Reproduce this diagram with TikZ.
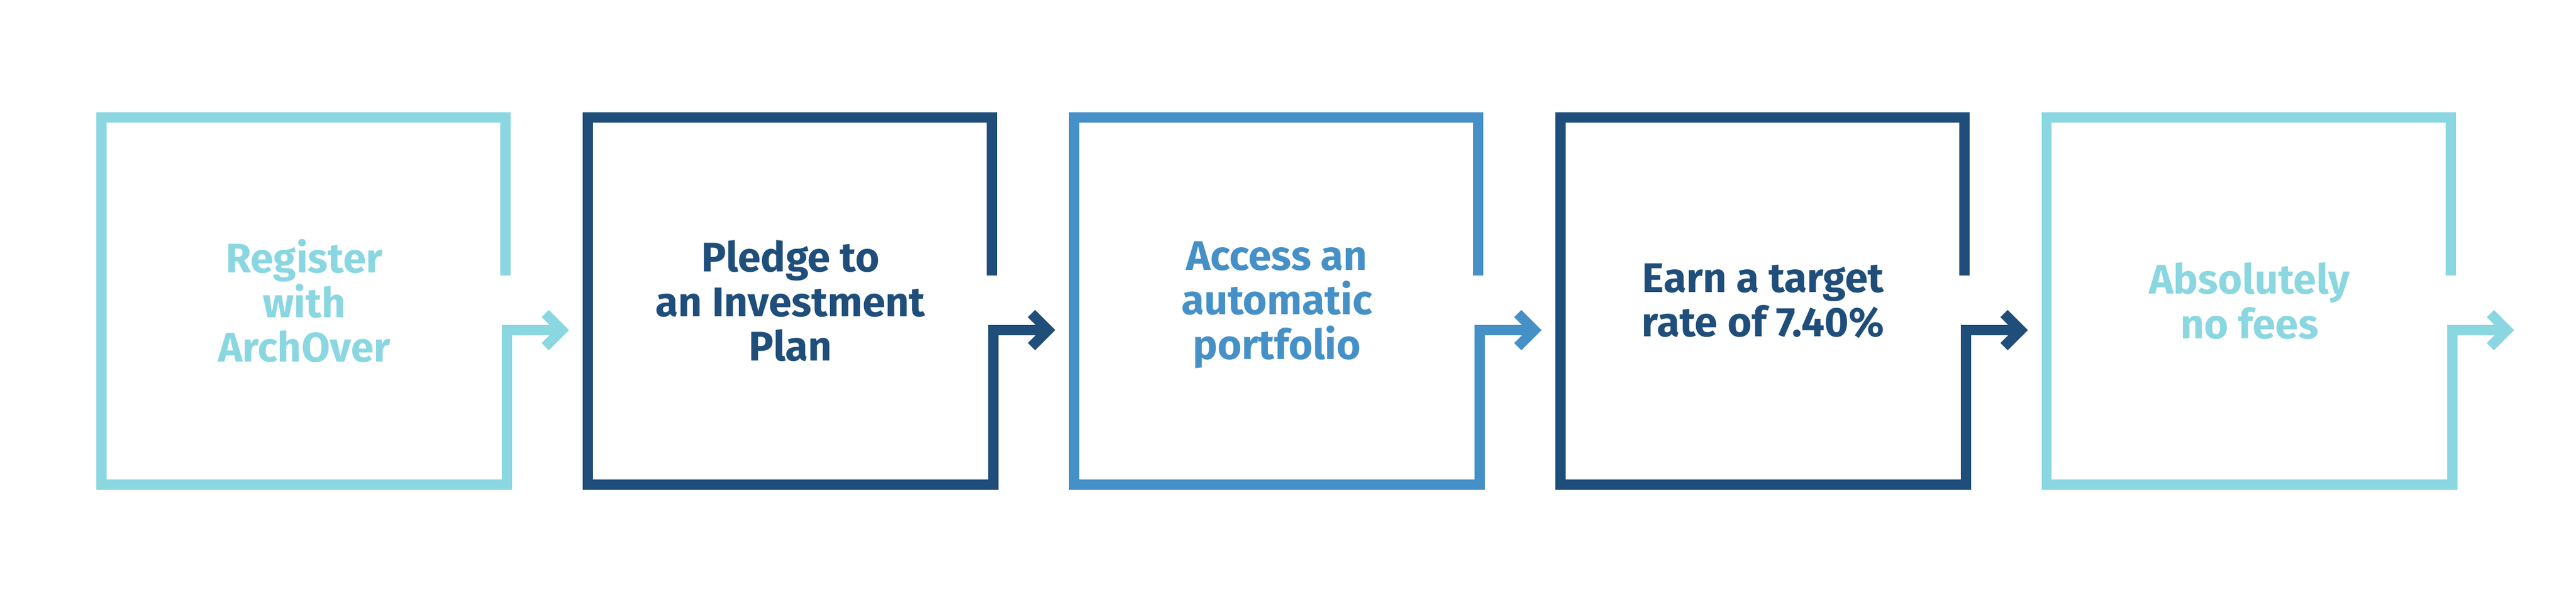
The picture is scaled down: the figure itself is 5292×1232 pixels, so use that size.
\documentclass[tikz,border=0pt]{standalone}
\usepackage{fontspec}
\setmainfont{Fira Sans}
\usetikzlibrary{calc}

\definecolor{stepcyan}{HTML}{8AD7E1}
\definecolor{stepnavy}{HTML}{1F4E7A}
\definecolor{stepblue}{HTML}{4590C7}

\begin{document}
\begin{tikzpicture}[x=1pt, y=-1pt,
    boxline/.style={line width=21pt, line join=miter},
    steptext/.style={align=center, font=\fontsize{85}{91.5}\selectfont\bfseries}]
    \useasboundingbox (0,0) rectangle (5292,1232);

    % Define nodes
    \node[steptext, text=stepcyan] (reg) at (625,618.5) {Register\\with\\ArchOver};
    \node[steptext, text=stepnavy] (pledge) at (1624,618.5) {Pledge to\\an Investment\\Plan};
    \node[steptext, text=stepblue] (access) at (2623,626.5) {Access an\\automatic\\portfolio};
    \node[steptext, text=stepnavy] (earn) at (3622,618.5) {Earn a target\\rate of 7.40\%};
    \node[steptext, text=stepcyan] (fees) at (4621,618.5) {Absolutely\\no fees};

    % Arrow tips
    \coordinate (tip1) at (1154,678.4);
    \coordinate (tip2) at (2153,678.4);
    \coordinate (tip3) at (3152,678.4);
    \coordinate (tip4) at (4151,678.4);
    \coordinate (tip5) at (5150,678.4);

    % Open boxes running into their arrows
    \draw[boxline, stepcyan] (1038.5,566) |- (208.5,241.5) |- (1041.5,995.5) -- (1041.5,678.4) -- (tip1);
    \draw[boxline, stepnavy] (2037.5,566) |- (1207.5,241.5) |- (2040.5,995.5) -- (2040.5,678.4) -- (tip2);
    \draw[boxline, stepblue] (3036.5,566) |- (2206.5,241.5) |- (3039.5,995.5) -- (3039.5,678.4) -- (tip3);
    \draw[boxline, stepnavy] (4035.5,566) |- (3205.5,241.5) |- (4038.5,995.5) -- (4038.5,678.4) -- (tip4);
    \draw[boxline, stepcyan] (5034.5,566) |- (4204.5,241.5) |- (5037.5,995.5) -- (5037.5,678.4) -- (tip5);

    % Chevrons
    \draw[boxline, stepcyan] (tip1) ++(-34,-34) -- (tip1) -- ++(-34,34);
    \draw[boxline, stepnavy] (tip2) ++(-34,-34) -- (tip2) -- ++(-34,34);
    \draw[boxline, stepblue] (tip3) ++(-34,-34) -- (tip3) -- ++(-34,34);
    \draw[boxline, stepnavy] (tip4) ++(-34,-34) -- (tip4) -- ++(-34,34);
    \draw[boxline, stepcyan] (tip5) ++(-34,-34) -- (tip5) -- ++(-34,34);

\end{tikzpicture}
\end{document}
